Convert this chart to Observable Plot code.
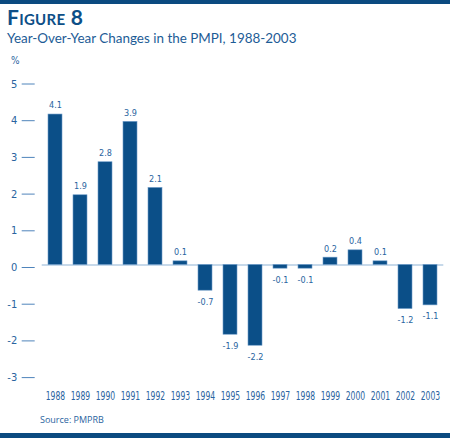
<!DOCTYPE html>
<html>
<head>
<meta charset="utf-8">
<script src="https://cdn.jsdelivr.net/npm/d3@7"></script>
<script src="https://cdn.jsdelivr.net/npm/@observablehq/plot@0.6"></script>
<style>
  html, body { margin: 0; padding: 0; background: #fff; }
  body { width: 450px; height: 438px; position: relative; overflow: hidden; }
  .band { position: absolute; left: 0; width: 450px; background: #0b4a80; }
  #title { position: absolute; left: 7px; top: 3.8px; font-family: Lato, "Open Sans", sans-serif; font-weight: 700;
           font-variant: small-caps; font-size: 21px; color: #0d4f87; line-height: 25.2px; letter-spacing: 0.3px; }
  #subtitle { position: absolute; left: 7px; top: 30.3px; font-family: Lato, "Open Sans", sans-serif; font-size: 13.45px;
              color: #1d5c96; line-height: 16.2px; white-space: nowrap; }
  #unit { position: absolute; left: 11px; top: 55px; font-family: "DejaVu Sans Condensed", sans-serif;
          font-size: 10px; color: #2a64a0; line-height: 12px; }
  #chart { position: absolute; left: 0; top: 55px; }
  #source { position: absolute; left: 40px; top: 413px; font-family: "Open Sans", sans-serif; font-size: 9px; color: #2a64a0; }
</style>
</head>
<body>
<div class="band" style="top:0;height:4px"></div>
<div id="title">Figure 8</div>
<div id="subtitle">Year-Over-Year Changes in the PMPI, 1988-2003</div>
<div id="unit">%</div>
<div id="chart"></div>
<div id="source">Source: PMPRB</div>
<div class="band" style="top:433px;height:5px"></div>
<script>
const years = ["1988","1989","1990","1991","1992","1993","1994","1995","1996","1997","1998","1999","2000","2001","2002","2003"];
const changes = [4.1, 1.9, 2.8, 3.9, 2.1, 0.1, -0.7, -1.9, -2.2, -0.1, -0.1, 0.2, 0.4, 0.1, -1.2, -1.1];
const yTicks = [-3, -2, -1, 0, 1, 2, 3, 4, 5];

const data = years.map((year, i) => ({year, value: changes[i]}));
const narrow = '"DejaVu Sans Condensed", "Open Sans", sans-serif';

const chart = Plot.plot({
  width: 450,
  height: 365,
  marginLeft: 41.7,
  marginRight: 6.7,
  marginTop: 26,
  marginBottom: 45.4,
  style: {fontFamily: narrow, color: "#2a64a0", background: "transparent"},
  x: {type: "band", domain: years, paddingInner: 0.458, paddingOuter: 0, align: 0.5},
  y: {domain: [-3, 5]},
  marks: [
    Plot.axisY({ticks: yTicks, tickFormat: d => String(d), tickSize: 13, tickPadding: 5, dx: -7, dy: 2.5,
                stroke: "#4f84bb", fontSize: 11, label: null}),
    Plot.axisX({tickSize: 0, tickPadding: 17, fontSize: 11.5, label: null}),
    Plot.ruleY([0], {stroke: "#8fb3d6", strokeWidth: 1.2}),
    Plot.barY(data, {x: "year", y: "value", fill: "#0b4f88", stroke: "#6e9cc8", strokeWidth: 0.6}),
    Plot.text(data.filter(d => d.value >= 0), {x: "year", y: "value", text: d => String(d.value), dy: -9, fontSize: 9, fill: "#2a64a0"}),
    Plot.text(data.filter(d => d.value < 0), {x: "year", y: "value", text: d => String(d.value), dy: 11, fontSize: 9, fill: "#2a64a0"})
  ]
});
// condense the year labels horizontally, as in the narrow typeface of the original
d3.select(chart).selectAll("g[aria-label='x-axis tick label'] text")
  .attr("textLength", 19.5).attr("lengthAdjust", "spacingAndGlyphs");
document.getElementById("chart").appendChild(chart);
</script>
</body>
</html>
